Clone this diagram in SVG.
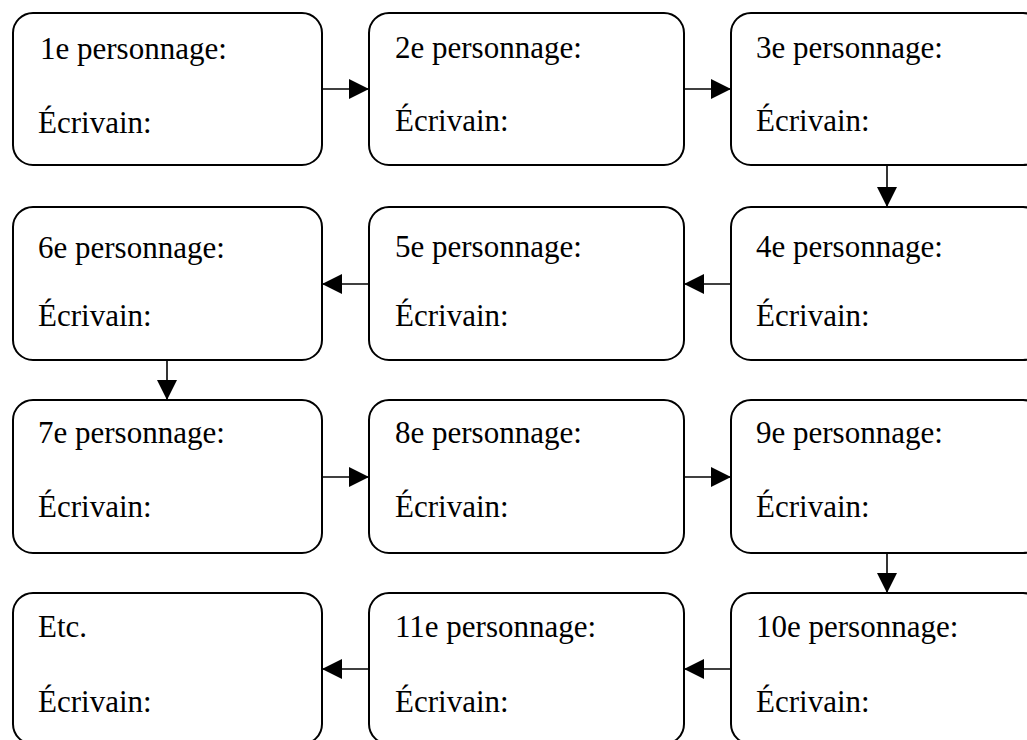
<svg xmlns="http://www.w3.org/2000/svg" width="1027" height="740" viewBox="0 0 1027 740">
<style>
.box{fill:#fff;stroke:#000;stroke-width:2}
.t{font-family:"Liberation Serif","Times New Roman",serif;font-size:31px;fill:#000}
.c{stroke:#000;stroke-width:1.6;fill:none}
</style>
<defs>
<marker id="ah" viewBox="0 0 20 20" refX="20" refY="10" markerWidth="20" markerHeight="20" markerUnits="userSpaceOnUse" orient="auto">
<path d="M0,0 L20,10 L0,20 Z" fill="#000"/>
</marker>
</defs>
<rect width="1027" height="740" fill="#fff"/>
<g id="connectors">
<line class="c" x1="322" y1="89" x2="369" y2="89" marker-end="url(#ah)"/>
<line class="c" x1="684" y1="89" x2="731" y2="89" marker-end="url(#ah)"/>
<line class="c" x1="887" y1="165" x2="887" y2="207" marker-end="url(#ah)"/>
<line class="c" x1="731" y1="284" x2="684" y2="284" marker-end="url(#ah)"/>
<line class="c" x1="369" y1="284" x2="322" y2="284" marker-end="url(#ah)"/>
<line class="c" x1="167" y1="360" x2="167" y2="400" marker-end="url(#ah)"/>
<line class="c" x1="322" y1="477" x2="369" y2="477" marker-end="url(#ah)"/>
<line class="c" x1="684" y1="477" x2="731" y2="477" marker-end="url(#ah)"/>
<line class="c" x1="887" y1="553" x2="887" y2="593" marker-end="url(#ah)"/>
<line class="c" x1="731" y1="669" x2="684" y2="669" marker-end="url(#ah)"/>
<line class="c" x1="369" y1="669" x2="322" y2="669" marker-end="url(#ah)"/>
</g>
<g id="n1"><rect class="box" x="13" y="13" width="309" height="152" rx="20"/><text class="t" x="40" y="59">1e personnage:</text><text class="t" x="38" y="133">Écrivain:</text></g>
<g id="n2"><rect class="box" x="369" y="13" width="315" height="152" rx="20"/><text class="t" x="395" y="58">2e personnage:</text><text class="t" x="395" y="131">Écrivain:</text></g>
<g id="n3"><rect class="box" x="731" y="13" width="312" height="152" rx="20"/><text class="t" x="756" y="58">3e personnage:</text><text class="t" x="756" y="131">Écrivain:</text></g>
<g id="n4"><rect class="box" x="731" y="207" width="312" height="153" rx="20"/><text class="t" x="756" y="257">4e personnage:</text><text class="t" x="756" y="326">Écrivain:</text></g>
<g id="n5"><rect class="box" x="369" y="207" width="315" height="153" rx="20"/><text class="t" x="395" y="257">5e personnage:</text><text class="t" x="395" y="326">Écrivain:</text></g>
<g id="n6"><rect class="box" x="13" y="207" width="309" height="153" rx="20"/><text class="t" x="38" y="258">6e personnage:</text><text class="t" x="38" y="326">Écrivain:</text></g>
<g id="n7"><rect class="box" x="13" y="400" width="309" height="153" rx="20"/><text class="t" x="38" y="443">7e personnage:</text><text class="t" x="38" y="517">Écrivain:</text></g>
<g id="n8"><rect class="box" x="369" y="400" width="315" height="153" rx="20"/><text class="t" x="395" y="443">8e personnage:</text><text class="t" x="395" y="517">Écrivain:</text></g>
<g id="n9"><rect class="box" x="731" y="400" width="312" height="153" rx="20"/><text class="t" x="756" y="443">9e personnage:</text><text class="t" x="756" y="517">Écrivain:</text></g>
<g id="n10"><rect class="box" x="731" y="593" width="312" height="151" rx="20"/><text class="t" x="756" y="637">10e personnage:</text><text class="t" x="756" y="712">Écrivain:</text></g>
<g id="n11"><rect class="box" x="369" y="593" width="315" height="151" rx="20"/><text class="t" x="395" y="637">11e personnage:</text><text class="t" x="395" y="712">Écrivain:</text></g>
<g id="n12"><rect class="box" x="13" y="593" width="309" height="151" rx="20"/><text class="t" x="38" y="637">Etc.</text><text class="t" x="38" y="712">Écrivain:</text></g>
</svg>
